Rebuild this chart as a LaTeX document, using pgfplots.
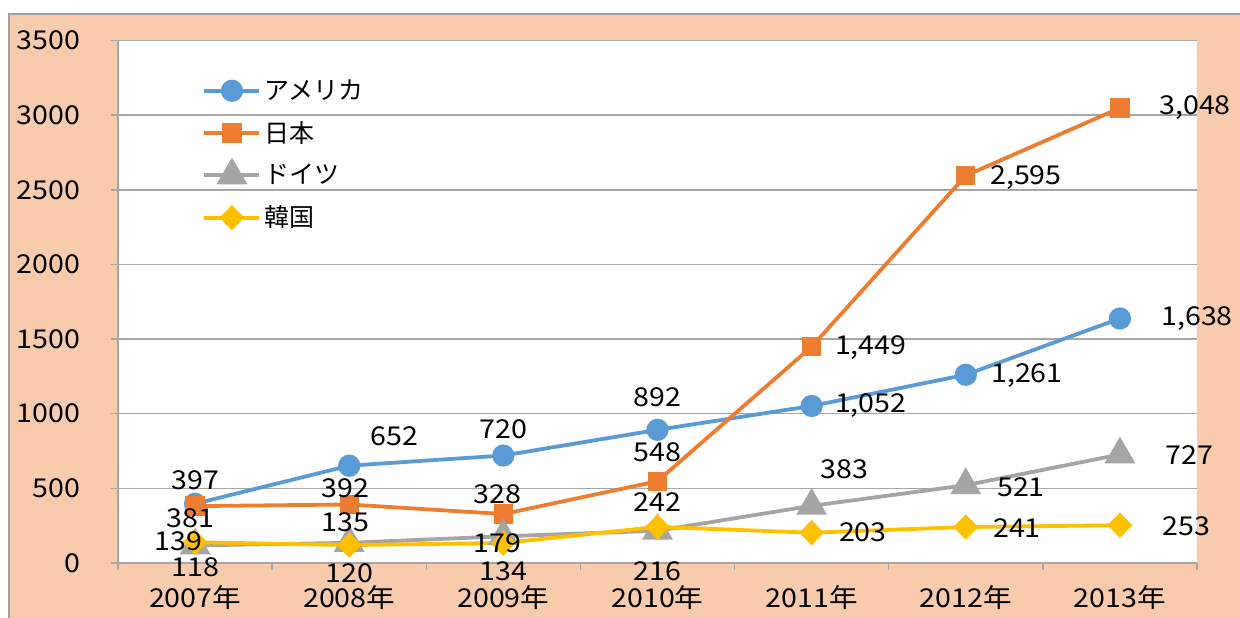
\documentclass[border=0pt]{standalone}
\usepackage{pgfplots}
\pgfplotsset{compat=1.18}
\usepackage{fontspec}
\setmainfont{Noto Sans CJK JP}[FakeStretch=1.1]
\newfontfamily\legfont{Noto Sans CJK JP}
\definecolor{cblue}{HTML}{5B9BD5}
\definecolor{corange}{HTML}{ED7D31}
\definecolor{cgray}{HTML}{A5A5A5}
\definecolor{cgold}{HTML}{FFC000}
\definecolor{peach}{HTML}{F8CBAD}
\definecolor{gridgray}{HTML}{A6A6A6}
\definecolor{bordergray}{HTML}{A0A0A0}
\newcommand\lblf{\fontsize{13}{15}\selectfont}
\newcommand\lab[6]{\node[anchor=#1,inner sep=0pt,font=\lblf,text=black,xshift=#4*0.5pt,yshift=#5*0.5pt] at (axis cs:#2,#3) {#6};}
\pgfplotsset{frame/.style={
  at={(0,0)}, anchor=south west,
  scale only axis, width=539.5pt, height=261.25pt,
  xmin=-0.5, xmax=6.5, ymin=0, ymax=3500, clip=false}}
\begin{document}
\begin{tikzpicture}
\fill[white] (-59pt,-27pt) rectangle (561pt,281.5pt);
\filldraw[fill=peach, draw=bordergray, line width=1pt] (-54.5pt,-40pt) rectangle (575pt,274.5pt);
\begin{axis}[
  frame,
  axis background/.style={fill=white},
  axis x line*=bottom, axis y line*=left,
  axis line style={-, draw=gridgray, line width=0.75pt},
  every outer x axis line/.append style={-},
  every outer y axis line/.append style={-},
  ytick={0,500,...,3500},
  ymajorgrids, grid style={draw=gridgray, line width=0.75pt},
  xtick={-0.5,0.5,...,6.5}, xticklabels={},
  extra x ticks={0,1,...,6},
  extra x tick labels={2007年,2008年,2009年,2010年,2011年,2012年,2013年},
  extra x tick style={major tick length=0pt, grid=none, xticklabel style={yshift=-7.5pt}},
  tick align=outside, major tick length=3.5pt,
  tick style={draw=gridgray, line width=0.75pt},
  ticklabel style={font=\lblf, text=black},
  /pgf/number format/assume math mode=true,
  yticklabel style={xshift=-12pt},
  scaled y ticks=false,
  y tick label style={/pgf/number format/1000 sep={}},
  legend style={draw=none, fill=none, at={(axis description cs:0.078,0.932)}, anchor=north west,
    font=\legfont\fontsize{12.5}{15}\selectfont, row sep=6.5pt, inner sep=0pt,
    nodes={inner sep=1.5pt}},
  legend cell align=left,
  legend image code/.code={\draw[mark repeat=2,mark phase=2,line width=1.9pt,#1] plot coordinates {(0pt,0pt) (13.75pt,0pt) (27.5pt,0pt)};},
  every axis plot/.append style={line width=1.9pt},
]
\addplot[color=cblue, mark=*, mark size=4.6pt, mark options={draw=none, fill=cblue}]
  coordinates {(0,397) (1,652) (2,720) (3,892) (4,1052) (5,1261) (6,1638)};
\addplot[color=corange, mark=square*, mark size=3.9pt, mark options={draw=none, fill=corange}]
  coordinates {(0,381) (1,392) (2,328) (3,548) (4,1449) (5,2595) (6,3048)};
\addplot[color=cgray, mark=triangle*, mark size=7pt, mark options={draw=none, fill=cgray}]
  coordinates {(0,118) (1,135) (2,179) (3,216) (4,383) (5,521) (6,727)};
\addplot[color=cgold, mark=diamond*, mark size=5pt, mark options={draw=none, fill=cgold, xscale=1.3}]
  coordinates {(0,139) (1,120) (2,134) (3,242) (4,203) (5,241) (6,253)};
\legend{アメリカ,日本,ドイツ,韓国}
\end{axis}
\begin{axis}[frame, hide axis]
% America
\lab{center}{0}{397}{0}{24}{397}
\lab{center}{1}{652}{45}{29}{652}
\lab{center}{2}{720}{0}{26}{720}
\lab{center}{3}{892}{0}{33}{892}
\lab{west}{4}{1052}{23}{0}{1,052}
\lab{west}{5}{1261}{25}{-1}{1,261}
\lab{west}{6}{1638}{41}{0}{1,638}
% Japan
\lab{center}{0}{381}{-5}{-12}{381}
\lab{center}{1}{392}{-4}{16}{392}
\lab{center}{2}{328}{-6}{20}{328}
\lab{center}{3}{548}{0}{29}{548}
\lab{west}{4}{1449}{23}{-1}{1,449}
\lab{west}{5}{2595}{24}{-2}{2,595}
\lab{west}{6}{3048}{39}{0}{3,048}
% Germany
\lab{center}{0}{118}{0}{-22}{118}
\lab{center}{1}{135}{-4}{21}{135}
\lab{center}{2}{179}{-6}{-7}{179}
\lab{center}{3}{216}{0}{-40}{216}
\lab{center}{4}{383}{33}{37}{383}
\lab{west}{5}{521}{31}{-2}{521}
\lab{west}{6}{727}{45}{-1}{727}
% Korea
\lab{center}{0}{139}{-17}{1}{139}
\lab{center}{1}{120}{0}{-28}{120}
\lab{center}{2}{134}{0}{-28}{134}
\lab{center}{3}{242}{0}{25}{242}
\lab{west}{4}{203}{27}{0}{203}
\lab{west}{5}{241}{27}{-1}{241}
\lab{west}{6}{253}{42}{-1}{253}
\end{axis}
\pgfresetboundingbox
\path[use as bounding box] (-59pt,-27pt) rectangle (561pt,281.5pt);
\end{tikzpicture}
\end{document}
